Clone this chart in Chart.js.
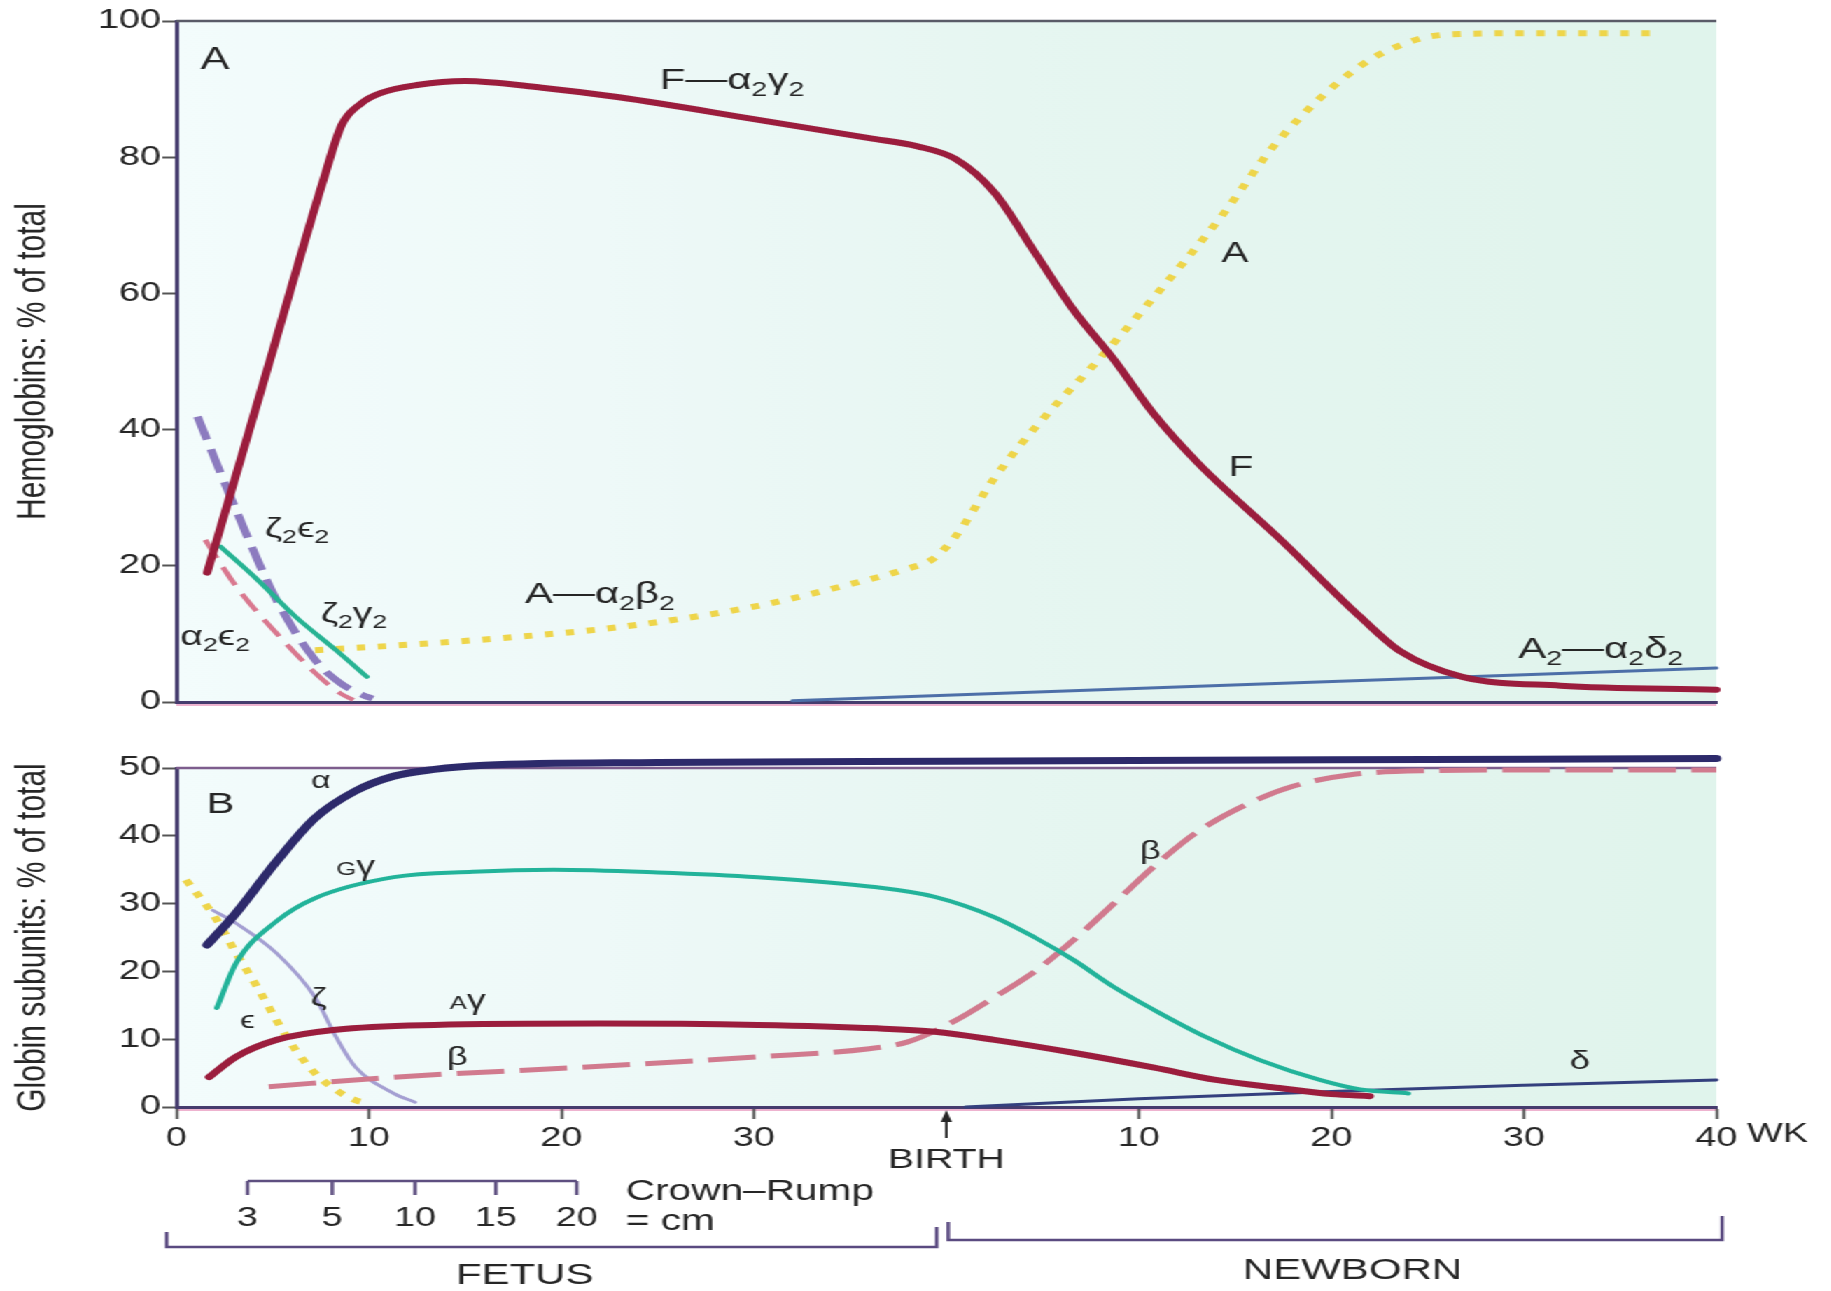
<!DOCTYPE html>
<html>
<head>
<meta charset="utf-8">
<title>Hemoglobin development</title>
<script src="https://cdn.jsdelivr.net/npm/chart.js@4.4.1/dist/chart.umd.min.js"></script>
<style>
  html, body { margin: 0; background: #fff; }
  /* the scanned figure is stretched sideways, so draw narrow and widen */
  #wrap { width: 1308px; transform: scaleX(1.4); transform-origin: 0 0; }
  canvas { display: block; }
</style>
</head>
<body>
<div id="wrap">
  <canvas id="chartA" width="1308" height="735"></canvas>
  <canvas id="chartB" width="1308" height="556"></canvas>
</div>
<script>
// x = weeks: 0-40 before birth, 40-80 = first 40 weeks after birth
const xTicks = [0, 10, 20, 30, 40, 50, 60, 70, 80];
const xTickLabels = ['0', '10', '20', '30', '', '10', '20', '30', '40'];

// crown-rump length (cm) against fetal age (weeks)
const crownRumpCm = [3, 5, 10, 15, 20];
const crownRumpWeeks = [3.7, 8.1, 12.4, 16.6, 20.8];

// panel A: hemoglobins, % of total
const hbF_x = [1.6, 5, 7.6, 8.6, 9.6, 10.6, 12.5, 15, 19, 23, 30, 36, 38.5, 40.5, 42.5, 44.6, 46.6, 48.7, 50.8, 53.1, 57.3, 61.5, 63.6, 66.8, 71.9, 80];
const hbF_y = [19, 51.5, 76.3, 84.8, 87.9, 89.4, 90.6, 91.2, 90.2, 88.8, 85.6, 82.8, 81.6, 79.7, 74.8, 66, 57.6, 50.3, 42.2, 35, 24, 12.5, 7.4, 3.7, 2.4, 1.8];
const hbA_x = [7.2, 12, 17, 23, 30, 35, 38, 39.3, 40.5, 42.4, 43.8, 45.8, 47.6, 50.8, 54.2, 57.3, 61.5, 64.6, 66.8, 70, 76.6];
const hbA_y = [7.6, 8.4, 9.4, 11, 14, 17.3, 19.6, 21, 24.4, 32.5, 37.6, 44, 49.3, 59.5, 71, 82.6, 93.4, 97.4, 98.1, 98.2, 98.2];
const hbA2_x = [32, 56, 80];
const hbA2_y = [0.2, 2.6, 5.0];
const z2e2_x = [1.1, 3.1, 5.2, 7.2, 8.5, 9.7, 10.2];
const z2e2_y = [41.9, 28.2, 15, 6.2, 2.8, 1.0, 0.5];
const a2e2_x = [1.5, 3.1, 5.2, 7.2, 8.5, 9.2];
const a2e2_y = [23.8, 17, 10.1, 4.3, 1.3, 0.3];
const z2g2_x = [2.3, 4.2, 6.2, 8.3, 9.9];
const z2g2_y = [22.8, 18, 12.5, 7.6, 3.7];

// panel B: globin subunits, % of total
const alpha_x = [1.6, 3.1, 5.2, 7.2, 9.3, 11.3, 13.4, 16, 25, 40, 60, 80];
const alpha_y = [23.9, 28.6, 36.2, 42.6, 46.6, 48.8, 49.8, 50.4, 50.8, 51, 51.2, 51.4];
const gGamma_x = [2.1, 3.1, 5.2, 7.2, 11.3, 15.4, 19.6, 25, 30.2, 36.4, 39.4, 42.5, 44.6, 46.6, 48.7, 50.8, 53.5, 56.3, 59.4, 61.5, 64];
const gGamma_y = [14.6, 21.2, 27.4, 30.8, 33.9, 34.7, 35, 34.6, 33.9, 32.4, 31, 28, 25, 21.7, 17.7, 14.3, 10.3, 6.9, 4, 2.6, 2];
const aGamma_x = [1.7, 3.1, 5.2, 8.3, 13.4, 22, 30.2, 36.4, 39.4, 42.5, 46.6, 50.8, 54, 57.3, 60, 62];
const aGamma_y = [4.4, 7.4, 9.9, 11.4, 12.1, 12.3, 12.1, 11.6, 11.1, 9.9, 8, 5.8, 4, 2.8, 1.9, 1.6];
const beta_x = [4.8, 11.3, 22, 30.2, 36, 38, 40.5, 42.5, 44.6, 46.6, 48.7, 50.8, 53, 55.5, 58, 61, 65, 70, 80];
const beta_y = [3, 4.4, 6, 7.4, 8.6, 9.6, 12.8, 16.2, 20, 24.6, 30, 35.5, 40.5, 44.5, 47.3, 49, 49.6, 49.7, 49.7];
const zeta_x = [1.9, 3.1, 5.2, 7.2, 8.3, 9.3, 11.3, 12.4];
const zeta_y = [29, 27.1, 22.7, 16.2, 10.3, 5.9, 2, 0.7];
const eps_x = [0.5, 2.1, 3.1, 4.2, 5.2, 6.2, 7.2, 8.3, 9.3, 10];
const eps_y = [33.5, 27.6, 22.7, 17.7, 12.8, 8.4, 5, 2.5, 1, 0.5];
const delta_x = [41, 50, 60, 70, 80];
const delta_y = [0, 1.2, 2.3, 3.2, 4.0];

const FONT = "'Liberation Sans', Arial, Helvetica, sans-serif";
const AXIS = '#463c6e';
const TEXT = '#262626';

Chart.defaults.font.family = FONT;
Chart.defaults.color = TEXT;

function pts(xs, ys) {
    return xs.map((x, i) => ({ x: x, y: ys[i] }));
}

function curve(xs, ys, color, width, dash) {
    return {
        data: pts(xs, ys),
        borderColor: color,
        borderWidth: width,
        borderDash: dash || [],
        borderCapStyle: dash ? 'butt' : 'round',
        borderJoinStyle: 'round',
        pointRadius: 0,
        cubicInterpolationMode: 'monotone',
        clip: false
    };
}

// text with subscripts (1) or small letters (2)
function drawParts(ctx, parts, x, y, size, align) {
    let total = 0;
    parts.forEach(([t, m]) => {
        ctx.font = (m ? size * 0.68 : size) + 'px ' + FONT;
        total += ctx.measureText(t).width;
    });
    let cx = align === 'center' ? x - total / 2 : x;
    ctx.textAlign = 'left';
    ctx.textBaseline = 'alphabetic';
    parts.forEach(([t, m]) => {
        ctx.font = (m ? size * 0.68 : size) + 'px ' + FONT;
        ctx.fillText(t, cx, y + (m === 1 ? size * 0.22 : 0));
        cx += ctx.measureText(t).width;
    });
}

function panelPlugin(frameColor) {
    return {
        id: 'panel',
        beforeDraw(chart) {
            const { ctx, chartArea: a } = chart;
            const g = ctx.createLinearGradient(a.left, 0, a.right, 0);
            g.addColorStop(0, '#f3fcfc');
            g.addColorStop(0.28, '#eef9f8');
            g.addColorStop(0.55, '#e6f6f1');
            g.addColorStop(1, '#e0f4ec');
            ctx.save();
            ctx.fillStyle = g;
            ctx.fillRect(a.left, a.top, a.right - a.left, a.bottom - a.top);
            // pink fringe under the bottom axis, as in the print
            ctx.strokeStyle = 'rgba(226,120,170,0.75)';
            ctx.lineWidth = 1.5;
            ctx.beginPath();
            ctx.moveTo(a.left, a.bottom + 3);
            ctx.lineTo(a.right, a.bottom + 3);
            ctx.stroke();
            ctx.restore();
        },
        beforeDatasetsDraw(chart) {
            const { ctx, chartArea: a } = chart;
            ctx.save();
            ctx.strokeStyle = frameColor;
            ctx.lineWidth = 2.5;
            ctx.beginPath();
            ctx.moveTo(a.left, a.top);
            ctx.lineTo(a.right, a.top);
            ctx.stroke();
            ctx.restore();
        }
    };
}

function labelsPlugin(list) {
    return {
        id: 'labels',
        afterDraw(chart) {
            const { ctx, scales } = chart;
            ctx.save();
            ctx.fillStyle = TEXT;
            list.forEach(l => {
                const px = scales.x.getPixelForValue(l.x);
                const py = scales.y.getPixelForValue(l.y) + l.size * 0.33;
                drawParts(ctx, l.parts, px, py, l.size, l.align);
            });
            ctx.restore();
        }
    };
}

const labelsA = [
    { x: 2.0, y: 94.4, parts: [['A', 0]], size: 31, align: 'center' },
    { x: 25.1, y: 91.4, parts: [['F—α', 0], ['2', 1], ['γ', 0], ['2', 1]], size: 30, align: 'left' },
    { x: 55.0, y: 66, parts: [['A', 0]], size: 29, align: 'center' },
    { x: 55.3, y: 34.6, parts: [['F', 0]], size: 29, align: 'center' },
    { x: 18.1, y: 16.0, parts: [['A—α', 0], ['2', 1], ['β', 0], ['2', 1]], size: 30, align: 'left' },
    { x: 69.7, y: 7.9, parts: [['A', 0], ['2', 1], ['—α', 0], ['2', 1], ['δ', 0], ['2', 1]], size: 30, align: 'left' },
    { x: 4.6, y: 25.6, parts: [['ζ', 0], ['2', 1], ['ϵ', 0], ['2', 1]], size: 28, align: 'left' },
    { x: 7.5, y: 13.1, parts: [['ζ', 0], ['2', 1], ['γ', 0], ['2', 1]], size: 28, align: 'left' },
    { x: 0.2, y: 9.7, parts: [['α', 0], ['2', 1], ['ϵ', 0], ['2', 1]], size: 28, align: 'left' }
];

const labelsB = [
    { x: 2.3, y: 44.8, parts: [['B', 0]], size: 30, align: 'center' },
    { x: 7.5, y: 48.2, parts: [['α', 0]], size: 24, align: 'center' },
    { x: 8.3, y: 35.5, parts: [['G', 2], ['γ', 0]], size: 27, align: 'left' },
    { x: 7.4, y: 16.2, parts: [['ζ', 0]], size: 26, align: 'center' },
    { x: 3.7, y: 12.8, parts: [['ϵ', 0]], size: 24, align: 'center' },
    { x: 14.2, y: 15.8, parts: [['A', 2], ['γ', 0]], size: 27, align: 'left' },
    { x: 14.6, y: 7.5, parts: [['β', 0]], size: 26, align: 'center' },
    { x: 50.6, y: 37.9, parts: [['β', 0]], size: 26, align: 'center' },
    { x: 72.9, y: 6.9, parts: [['δ', 0]], size: 26, align: 'center' }
];

// birth arrow, crown-rump scale and the fetus / newborn brackets
const timelinePlugin = {
    id: 'timeline',
    afterDraw(chart) {
        const { ctx, chartArea: a, scales } = chart;
        const xs = scales.x;
        const px = v => xs.getPixelForValue(v);
        const base = a.bottom;
        ctx.save();
        ctx.fillStyle = TEXT;
        ctx.strokeStyle = '#333';

        // WK after the last tick label
        ctx.font = '27px ' + FONT;
        ctx.textAlign = 'left';
        ctx.textBaseline = 'top';
        ctx.fillText('WK', px(80) + 22, base + 14);

        // birth arrow
        const bx = px(40);
        ctx.lineWidth = 2;
        ctx.beginPath();
        ctx.moveTo(bx, base + 12);
        ctx.lineTo(bx, base + 31);
        ctx.stroke();
        ctx.beginPath();
        ctx.moveTo(bx, base + 3);
        ctx.lineTo(bx - 4, base + 15);
        ctx.lineTo(bx + 4, base + 15);
        ctx.closePath();
        ctx.fill();
        ctx.font = '28px ' + FONT;
        ctx.textAlign = 'center';
        ctx.textBaseline = 'middle';
        ctx.fillText('BIRTH', bx, base + 53);

        // crown-rump scale
        const cy = base + 74;
        ctx.strokeStyle = '#5e4f80';
        ctx.lineWidth = 2.5;
        ctx.beginPath();
        ctx.moveTo(px(crownRumpWeeks[0]), cy);
        ctx.lineTo(px(crownRumpWeeks[crownRumpWeeks.length - 1]), cy);
        crownRumpWeeks.forEach(w => {
            ctx.moveTo(px(w), cy);
            ctx.lineTo(px(w), cy + 14);
        });
        ctx.stroke();
        ctx.font = '27px ' + FONT;
        crownRumpCm.forEach((c, i) => {
            ctx.fillText(String(c), px(crownRumpWeeks[i]), cy + 38);
        });
        const lastCr = px(crownRumpWeeks[crownRumpWeeks.length - 1]);
        ctx.font = '29px ' + FONT;
        ctx.textAlign = 'left';
        ctx.fillText('Crown–Rump', lastCr + 35, cy + 11);
        ctx.fillText('= cm', lastCr + 35, cy + 41);

        // fetus / newborn brackets
        ctx.strokeStyle = '#5a4a80';
        ctx.lineWidth = 2.5;
        const fy = base + 140;
        ctx.beginPath();
        ctx.moveTo(px(-0.5), fy - 15);
        ctx.lineTo(px(-0.5), fy);
        ctx.lineTo(px(39.5), fy);
        ctx.lineTo(px(39.5), fy - 20);
        ctx.stroke();
        const ny = base + 133;
        ctx.beginPath();
        ctx.moveTo(px(40.1), ny - 18);
        ctx.lineTo(px(40.1), ny);
        ctx.lineTo(px(80.3), ny);
        ctx.lineTo(px(80.3), ny - 24);
        ctx.stroke();
        ctx.font = '30px ' + FONT;
        ctx.textAlign = 'center';
        ctx.fillText('FETUS', px(18.1), base + 169);
        ctx.fillText('NEWBORN', px(61.1), base + 164);
        ctx.restore();
    }
};

function yAxis(max, step, title) {
    return {
        min: 0,
        max: max,
        ticks: { stepSize: step, padding: 1, font: { size: 27 }, color: TEXT },
        grid: { drawOnChartArea: false, drawTicks: true, tickLength: 10, tickColor: '#555', tickWidth: 2 },
        border: { color: AXIS, width: 3 },
        title: { display: true, text: title, font: { size: 30 }, color: TEXT, padding: { top: 6, bottom: 0 } },
        afterFit: s => { s.width = 126; }
    };
}

const common = {
    responsive: false,
    devicePixelRatio: 1,
    animation: false,
    events: [],
    plugins: { legend: { display: false }, tooltip: { enabled: false } }
};

new Chart(document.getElementById('chartA'), {
    type: 'line',
    data: {
        datasets: [
            curve(hbF_x, hbF_y, '#9b1d3d', 6),
            curve(z2g2_x, z2g2_y, '#27b393', 4),
            curve(z2e2_x, z2e2_y, '#8c7bbf', 6, [24, 10]),
            curve(a2e2_x, a2e2_y, '#d9788f', 4, [20, 10]),
            curve(hbA_x, hbA_y, '#eed54a', 6, [6, 9]),
            curve(hbA2_x, hbA2_y, '#4d6fa8', 3)
        ]
    },
    options: Object.assign({}, common, {
        layout: { padding: { top: 21, right: 82, bottom: 0, left: 0 } },
        scales: {
            x: {
                type: 'linear', min: 0, max: 80,
                ticks: { display: false },
                grid: { display: false, drawTicks: false },
                border: { color: AXIS, width: 3 },
                afterFit: s => { s.height = 33; }
            },
            y: yAxis(100, 20, 'Hemoglobins: % of total')
        }
    }),
    plugins: [panelPlugin('#5a5b68'), labelsPlugin(labelsA)]
});

new Chart(document.getElementById('chartB'), {
    type: 'line',
    data: {
        datasets: [
            curve(alpha_x, alpha_y, '#2d2a6b', 7),
            curve(aGamma_x, aGamma_y, '#9b1d3d', 6),
            curve(gGamma_x, gGamma_y, '#22b39a', 4),
            curve(beta_x, beta_y, '#d17a8e', 5, [34, 11]),
            curve(zeta_x, zeta_y, '#a49fd2', 3),
            curve(eps_x, eps_y, '#eed54a', 6, [6, 8]),
            curve(delta_x, delta_y, '#34407e', 3)
        ]
    },
    options: Object.assign({}, common, {
        layout: { padding: { top: 33, right: 82, bottom: 0, left: 0 } },
        scales: {
            x: {
                type: 'linear', min: 0, max: 80,
                afterBuildTicks: s => { s.ticks = xTicks.map(v => ({ value: v })); },
                ticks: {
                    autoSkip: false, maxRotation: 0, padding: 3, font: { size: 27 }, color: TEXT,
                    callback: v => xTickLabels[xTicks.indexOf(v)]
                },
                grid: {
                    drawOnChartArea: false, tickLength: 12, tickWidth: 2,
                    tickColor: c => (c.tick && c.tick.value === 40 ? 'rgba(0,0,0,0)' : '#555')
                },
                border: { color: AXIS, width: 3 },
                afterFit: s => { s.height = 184; }
            },
            y: yAxis(50, 10, 'Globin subunits: % of total')
        }
    }),
    plugins: [panelPlugin('#7d5d8d'), labelsPlugin(labelsB), timelinePlugin]
});
</script>
</body>
</html>
